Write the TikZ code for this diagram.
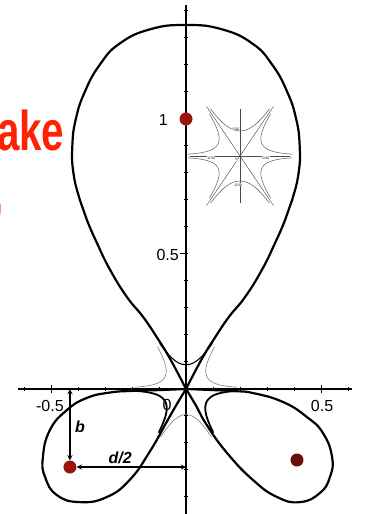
\documentclass[tikz,border=0pt]{standalone}
\usepackage{graphicx}
\usepackage{fontspec}
\setmainfont{Liberation Sans}
\definecolor{titlered}{RGB}{255,34,0}
\definecolor{coilred}{RGB}{155,22,10}
\definecolor{coildark}{RGB}{105,14,6}

\begin{document}
\begin{tikzpicture}[x=270pt, y=270pt,
    >=stealth,
    sep/.style={line width=2.2pt, line join=round},
    inner/.style={line width=1.8pt},
    flux/.style={gray, line width=0.6pt},
    axis/.style={line width=1.5pt},
    tick/.style={line width=1pt},
    coil/.style={circle, fill=coilred, minimum size=13pt, inner sep=0pt},
    lab/.style={font=\fontsize{16}{18}\selectfont, inner sep=0pt},
    dimlab/.style={font=\fontsize{16}{18}\selectfont\bfseries\itshape, inner sep=0pt},
    dim/.style={<->, line width=1.3pt},
    title/.style={text=titlered, font=\fontsize{56}{60}\selectfont\bfseries, anchor=base east, inner sep=0pt},
    mini/.style={gray!60!black, line width=0.45pt},
    minilab/.style={font=\fontsize{3.5}{4}\selectfont, inner sep=0.2pt, fill=white}]

  \useasboundingbox (-0.6889,-0.4630) rectangle (0.6593,1.4407);

  \coordinate (null) at (0,0);

  \draw[axis] (-0.622,0) -- (0.615,0);
  \draw[axis] (0,-0.47) -- (0,1.422);
  \foreach \t in {-6,...,6}
    \draw[tick] (\t/10,-0.009) -- (\t/10,0.009);
  \foreach \t in {-4,...,14}
    \draw[tick] (-0.009,\t/10) -- (0.009,\t/10);
  \draw[tick] (-0.5,-0.016) -- (-0.5,0.016);
  \draw[tick] (0.5,-0.016) -- (0.5,0.016);
  \draw[tick] (-0.022,0.5) -- (0,0.5);

  \draw[sep] plot[smooth, tension=0.8] coordinates {(0,0) (-0.059,0.112) (-0.107,0.190)
    (-0.159,0.267) (-0.219,0.341) (-0.281,0.441) (-0.330,0.541) (-0.367,0.626) (-0.393,0.700)
    (-0.417,0.800) (-0.421,0.900) (-0.408,1.000) (-0.375,1.100) (-0.320,1.200) (-0.245,1.280)
    (-0.130,1.333) (0,1.348) (0.130,1.333) (0.245,1.280) (0.320,1.200) (0.375,1.100)
    (0.408,1.000) (0.421,0.900) (0.417,0.800) (0.393,0.700) (0.367,0.626) (0.330,0.541)
    (0.281,0.441) (0.219,0.341) (0.159,0.267) (0.107,0.190) (0.059,0.112) (0,0)};

  \draw[sep] plot[smooth, tension=0.8] coordinates {(0,0) (-0.035,-0.058) (-0.075,-0.128)
    (-0.133,-0.230) (-0.207,-0.335) (-0.293,-0.400) (-0.393,-0.419) (-0.478,-0.393)
    (-0.522,-0.326) (-0.530,-0.252) (-0.504,-0.152) (-0.441,-0.078) (-0.367,-0.033)
    (-0.281,-0.013) (-0.196,-0.007) (-0.1,-0.004) (0,0)};

  \draw[sep] plot[smooth, tension=0.8] coordinates {(0,0) (0.035,-0.058) (0.078,-0.135)
    (0.152,-0.237) (0.248,-0.337) (0.337,-0.400) (0.422,-0.419) (0.496,-0.385)
    (0.533,-0.326) (0.541,-0.252) (0.507,-0.163) (0.448,-0.104) (0.359,-0.048)
    (0.248,-0.015) (0.18,-0.008) (0.1,-0.004) (0,0)};

  \draw[black, line width=1.1pt] plot[domain=60:120, samples=60]
    (\x:{0.09/(sin(180*(\x-58)/64))^(1/3)});
  \draw[flux] plot[domain=2:56, samples=60]
    (\x:{0.09/(sin(180*\x/58))^(1/3)});
  \draw[flux] plot[domain=124:178, samples=60]
    (\x:{0.09/(sin(180*(\x-122)/58))^(1/3)});
  \draw[flux] plot[domain=242:298, samples=60]
    (\x:{0.095/(sin(180*(\x-240)/60))^(1/3)});
  \draw[inner] plot[domain=182:238, samples=60]
    (\x:{0.09/(sin(180*(\x-180)/60))^(1/3)});
  \draw[inner] plot[domain=302:358, samples=60]
    (\x:{0.09/(sin(180*(\x-300)/60))^(1/3)});

  \begin{scope}[shift={(0.2,0.863)}]
    \draw[mini] (-0.185,0) -- (0.185,0);
    \draw[mini] (0,-0.174) -- (0,0.174);
    \draw[mini] (236:0.222) -- (56:0.222);
    \draw[mini] (304:0.222) -- (124:0.222);
    \foreach \a/\b in {0/56, 56/124, 124/180, 180/236, 236/304, 304/360}
      \draw[mini] plot[domain=\a+2:\b-2, samples=50]
        (\x:{0.093/(sin(180*(\x-\a)/(\b-\a)))^(1/3)});
    \node[minilab] (mtop) at (-0.015,0.1) {0.50};
    \node[minilab] (mleft) at (-0.107,-0.007) {-0.50};
    \node[minilab] (mright) at (0.096,-0.007) {0.50};
    \node[minilab] (mbot) at (-0.007,-0.107) {-0.50};
    \node[minilab] (mzero) at (-0.013,-0.012) {0};
  \end{scope}

  \node[lab] (xneg) at (-0.504,-0.063) {-0.5};
  \node[lab] (xpos) at (0.504,-0.063) {0.5};
  \node[lab] (xzero) at (-0.070,-0.059) {0};
  \node[lab, anchor=east] (yhalf) at (-0.026,0.496) {0.5};
  \node[lab, anchor=east] (yone) at (-0.067,0.996) {1};

  \node[coil] (plasma) at (0,1) {};
  \node[coil] (coilL) at (-0.43,-0.289) {};
  \node[coil, fill=coildark] (coilR) at (0.411,-0.263) {};

  \draw[dim] (coilL |- null) -- (coilL.north);
  \draw[dim] (coilL.east) -- (coilL -| null);
  \node[dimlab] (blab) at (-0.393,-0.141) {b};
  \node[dimlab] (dlab) at (-0.244,-0.256) {d/2};

  \node[title] (title) at (-0.450,0.885) {\scalebox{0.72}[1]{ake}};
  \node[title] (comma) at (-0.676,0.652) {\scalebox{0.72}[1]{,}};
\end{tikzpicture}
\end{document}
